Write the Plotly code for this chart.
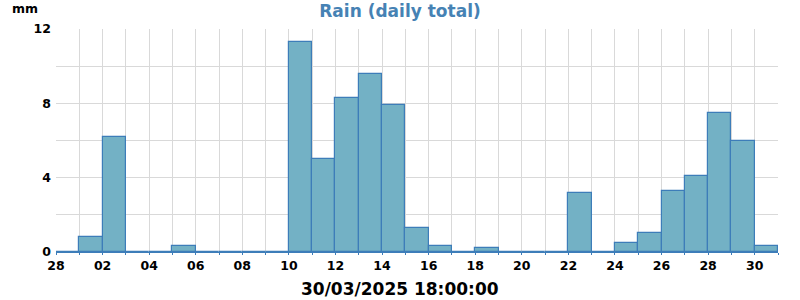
import plotly.graph_objects as go
import pandas as pd

days = pd.date_range("2025-02-28", "2025-03-30", freq="D")
rain_mm = [0, 0.8, 6.2, 0, 0, 0.3, 0, 0, 0, 0,
           11.3, 5.0, 8.3, 9.6, 7.9, 1.3, 0.3, 0, 0.2, 0,
           0, 0, 3.2, 0, 0.5, 1.0, 3.3, 4.1, 7.5, 6.0, 0.3]
tick_days = pd.date_range("2025-02-28", "2025-03-31", freq="D")
tick_text = [d.strftime("%d") if i % 2 == 0 else "" for i, d in enumerate(tick_days)]
y_ticks = [0, 2, 4, 6, 8, 10, 12]
y_text = ["0", "", "4", "", "8", "", "12"]

DAY_MS = 86400000
font = "DejaVu Sans"
blue = "#3d7db9"
PW, PH = 722, 223

fig = go.Figure()
fig.add_trace(go.Bar(
    x=days, y=rain_mm, width=[DAY_MS] * len(days), offset=0,
    marker=dict(color="#73b1c5", line=dict(color=blue, width=1.2)),
    hoverinfo="x+y",
))
fig.update_layout(
    width=800, height=300,
    margin=dict(l=56, r=22, t=29, b=48),
    paper_bgcolor="white", plot_bgcolor="white",
    showlegend=False,
    bargap=0,
    font=dict(family=font, color="black"),
    title=dict(text="<b>Rain (daily total)</b>", x=0.5, xanchor="center",
               y=1 - 11 / 300, yanchor="middle",
               font=dict(family=font, size=17, color="#4682b4")),
    xaxis=dict(
        type="date",
        range=["2025-02-28", "2025-03-31"],
        tickvals=tick_days, ticktext=tick_text,
        tickfont=dict(family=font, size=12.5, color="black", weight="bold"),
        showgrid=True, gridcolor="#d9d9d9", gridwidth=1,
        showline=True, linecolor=blue, linewidth=1.3,
        ticks="outside", ticklen=2, tickcolor=blue,
        zeroline=False, automargin=False,
    ),
    yaxis=dict(
        range=[0, 12],
        tickvals=y_ticks, ticktext=y_text,
        tickfont=dict(family=font, size=12.5, color="black", weight="bold"),
        showgrid=True, gridcolor="#d9d9d9", gridwidth=1,
        zeroline=False, showline=False, automargin=False,
        ticks="", ticklabelstandoff=4,
    ),
    annotations=[
        dict(text="<b>mm</b>", xref="paper", yref="paper",
             x=-46 / PW, y=1 + 20 / PH, xanchor="left", yanchor="middle",
             showarrow=False, font=dict(family=font, size=12.5, color="black")),
        dict(text="<b>30/03/2025 18:00:00</b>", xref="paper", yref="paper",
             x=(400 - 56) / PW, y=-(289 - 252) / PH, xanchor="center", yanchor="middle",
             showarrow=False, font=dict(family=font, size=17, color="black")),
    ],
)
fig.write_html("out.html")
